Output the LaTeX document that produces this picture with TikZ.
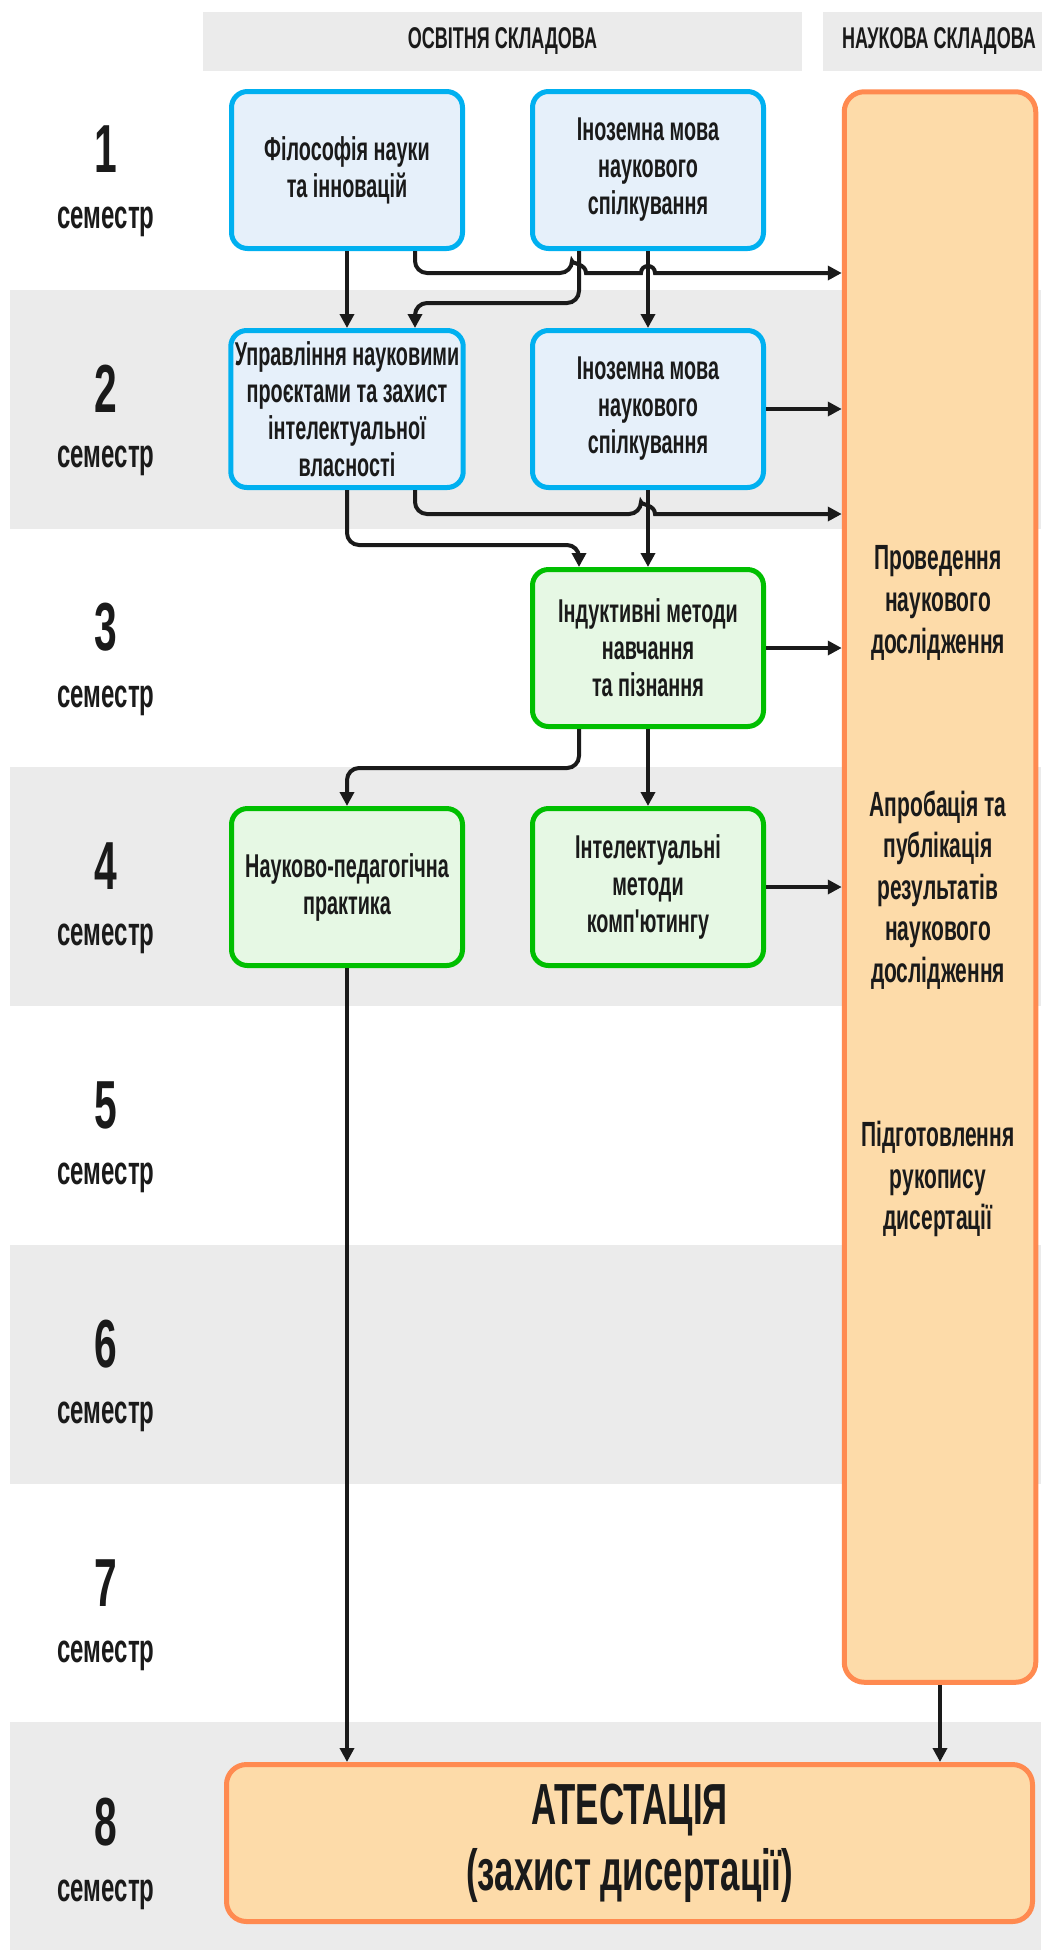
\documentclass[tikz,border=0pt]{standalone}
\usepackage{fontspec}
\setmainfont{Liberation Sans}[FakeStretch=0.6]
\usetikzlibrary{arrows.meta,positioning,calc}

\definecolor{bandgray}{HTML}{EBEBEB}
\definecolor{blueline}{HTML}{00B0F0}
\definecolor{bluefill}{HTML}{E6F0FA}
\definecolor{greenline}{HTML}{00BF00}
\definecolor{greenfill}{HTML}{E6F8E4}
\definecolor{orangeline}{HTML}{FF8A50}
\definecolor{orangefill}{HTML}{FDDBA9}
\definecolor{ink}{HTML}{1A1A1A}

\begin{document}
\begin{tikzpicture}[
            x=0.5pt, y=-0.5pt,
            >={Triangle[length=7pt,width=7pt]},
            course/.style={draw, line width=2.5pt, rounded corners=8pt, minimum width=115.5pt, minimum height=78.5pt, align=center, inner sep=2pt, text=ink, font=\bfseries\fontsize{16.5}{18.5}\selectfont},
            bluebox/.style={course, draw=blueline, fill=bluefill},
            greenbox/.style={course, draw=greenline, fill=greenfill},
            orangebox/.style={draw=orangeline, fill=orangefill, line width=2.5pt, rounded corners=10pt},
            headbar/.style={fill=bandgray, minimum height=29.5pt, inner sep=0pt, text=ink, font=\bfseries\fontsize{15}{17}\selectfont},
            semnum/.style={inner sep=0pt, text=ink, font=\bfseries\fontsize{34}{34}\selectfont},
            semlabel/.style={inner sep=0pt, text=ink, font=\bfseries\fontsize{20}{22}\selectfont},
            restext/.style={align=center, text=ink, font=\bfseries\fontsize{17.5}{20.8}\selectfont},
            link/.style={->, draw=ink, line width=2pt}
        ]
            \useasboundingbox (0,0) rectangle (1041,1950);

            \fill[bandgray] (10,290) rectangle (1041,529);
            \fill[bandgray] (10,767) rectangle (1041,1006);
            \fill[bandgray] (10,1245) rectangle (1041,1484);
            \fill[bandgray] (10,1722) rectangle (1041,1950);

            \node[headbar, minimum width=299.5pt] (edu) at (502.5,41.5) {ОСВІТНЯ СКЛАДОВА};
            \node[headbar, minimum width=116pt] (sci) at (939,41.5) {НАУКОВА СКЛАДОВА};

            \node[semnum] (s1) at (106,149.5) {1};
            \node[semnum] (s2) at (106,388.5) {2};
            \node[semnum] (s3) at (106,627.5) {3};
            \node[semnum] (s4) at (106,866.5) {4};
            \node[semnum] (s5) at (106,1105.5) {5};
            \node[semnum] (s6) at (106,1344.5) {6};
            \node[semnum] (s7) at (106,1583.5) {7};
            \node[semnum] (s8) at (106,1822.5) {8};

            \node[semlabel, below=16.5pt of s1] (l1) {семестр};
            \node[semlabel, below=16.5pt of s2] (l2) {семестр};
            \node[semlabel, below=16.5pt of s3] (l3) {семестр};
            \node[semlabel, below=16.5pt of s4] (l4) {семестр};
            \node[semlabel, below=16.5pt of s5] (l5) {семестр};
            \node[semlabel, below=16.5pt of s6] (l6) {семестр};
            \node[semlabel, below=16.5pt of s7] (l7) {семестр};
            \node[semlabel, below=16.5pt of s8] (l8) {семестр};

            \node[orangebox, minimum width=95.75pt, minimum height=795.25pt] (R) at (940,887) {};
            \node[restext] (t1) at (938,603) {Проведення\\наукового\\дослідження};
            \node[restext] (t2) at (938,890) {Апробація та\\публікація\\результатів\\наукового\\дослідження};
            \node[restext] (t3) at (938,1179) {Підготовлення\\рукопису\\дисертації};

            \node[bluebox] (A) at (347,170) {Філософія науки\\та інновацій};
            \node[bluebox] (B) at (648,170) {Іноземна мова\\наукового\\спілкування};
            \node[bluebox] (C) at (347,409) {Управління науковими\\проєктами та захист\\інтелектуальної\\власності};
            \node[bluebox] (D) at (648,409) {Іноземна мова\\наукового\\спілкування};
            \node[greenbox] (E) at (648,648) {Індуктивні методи\\навчання\\та пізнання};
            \node[greenbox] (F) at (347,887) {Науково-педагогічна\\практика};
            \node[greenbox] (G) at (648,887) {Інтелектуальні\\методи\\комп{\addfontfeatures{Ligatures=TeXOff}'}ютингу};

            \node[orangebox, minimum width=403pt, minimum height=78.5pt, align=center, text=ink, font=\bfseries\fontsize{29}{33}\selectfont] (H) at (629.5,1843) {АТЕСТАЦІЯ\\(захист дисертації)};

            \coordinate (y1) at (0,273);
            \coordinate (y2) at (0,303);
            \coordinate (y3) at (0,514);
            \coordinate (y4) at (0,545);
            \coordinate (y5) at (0,768);
            \coordinate (Ar) at ([xshift=34pt]A.south);
            \coordinate (Bl) at ([xshift=-34.5pt]B.south);
            \coordinate (Cn) at ([xshift=34pt]C.north);
            \coordinate (Cr) at ([xshift=34pt]C.south);
            \coordinate (En) at ([xshift=-34.5pt]E.north);
            \coordinate (Es) at ([xshift=-34.5pt]E.south);
            \coordinate (h1) at (Bl |- y1);
            \coordinate (h2) at (B.south |- y1);
            \coordinate (h3) at (D.south |- y3);

            \draw[link] (A) -- (C);
            \draw[link] (B) -- (D);
            \draw[link] (D) -- (E);
            \draw[link] (E) -- (G);
            \draw[link, rounded corners=6pt] (Bl) -- (Bl |- y2) -- (Cn |- y2) -- (Cn);
            \draw[link, rounded corners=6pt] (C.south) -- (C.south |- y4) -- (En |- y4) -- (En);
            \draw[link, rounded corners=6pt] (Es) -- (Es |- y5) -- (F.north |- y5) -- (F.north);
            \draw[link, rounded corners=6pt] (Ar) -- (Ar |- y1) -- ([xshift=-3.5pt]h1) [sharp corners] .. controls +(0,-9.3) and +(0,-9.3) .. ([xshift=3.5pt]h1) -- ([xshift=-3.5pt]h2) .. controls +(0,-9.3) and +(0,-9.3) .. ([xshift=3.5pt]h2) -- (R.west |- y1);
            \draw[link, rounded corners=6pt] (Cr) -- (Cr |- y3) -- ([xshift=-3.5pt]h3) [sharp corners] .. controls +(0,-9.3) and +(0,-9.3) .. ([xshift=3.5pt]h3) -- (R.west |- y3);
            \draw[link] (D.east) -- (D.east -| R.west);
            \draw[link] (E.east) -- (E.east -| R.west);
            \draw[link] (G.east) -- (G.east -| R.west);
            \draw[link] (F.south) -- (F.south |- H.north);
            \draw[link] (R.south) -- (R.south |- H.north);
        \end{tikzpicture}
\end{document}
